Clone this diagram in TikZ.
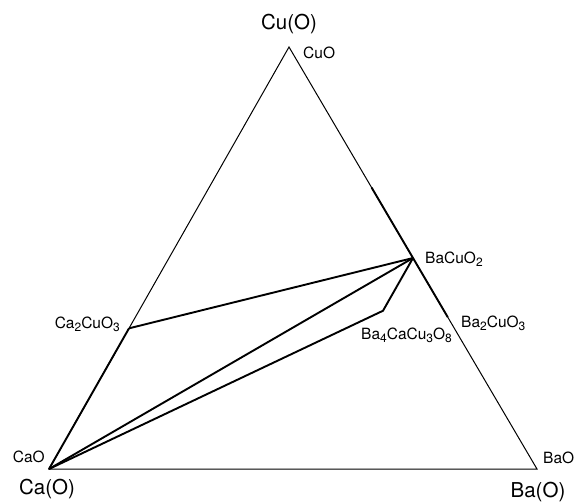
\documentclass[tikz,border=0pt]{standalone}
\usepackage{fontspec}
\setmainfont{TeX Gyre Heros}
\usetikzlibrary{calc}
\newcommand{\chemsub}[1]{\raisebox{-0.35ex}{\fontsize{12}{13}\selectfont #1}}
\tikzset{
    edgeline/.style={
        draw=black,
        line width=1.0pt
    },
    tieline/.style={
        draw=black,
        line width=1.9pt,
        line join=round
    },
    cornerlabel/.style={
        font=\fontsize{20.5}{23}\selectfont,
        inner sep=0pt
    },
    phaselabel/.style={
        font=\fontsize{15.5}{17}\selectfont,
        inner sep=0pt
    }
}

\begin{document}
\begin{tikzpicture}[x=1pt,y=-1pt]
    \useasboundingbox (0,0) rectangle (579,503);

    % Corners of the composition triangle
    \coordinate (Cu) at (289,47);
    \coordinate (Ca) at (49,469);
    \coordinate (Ba) at (537,469);

    % Phases on the edges and inside
    \coordinate (BaCuO2) at ($(Cu)!0.5!(Ba)$);
    \coordinate (Ca2CuO3) at ($(Cu)!2/3!(Ca)$);
    \coordinate (Ba2CuO3) at ($(Cu)!0.64!(Ba)$);
    \coordinate (BaCu2) at ($(Cu)!1/3!(Ba)$);
    \coordinate (Ba4CaCu3O8) at (barycentric cs:Ba=4,Ca=1,Cu=3);

    % Triangle outline
    \draw[edgeline] (Ca) -- (Cu) -- (Ba) -- cycle;

    % Solid solution ranges along the edges
    \draw[tieline] (BaCu2) -- (Ba2CuO3);
    \draw[tieline] (Ca2CuO3) -- (Ca);

    % Tie lines
    \draw[tieline] (Ca2CuO3) -- (BaCuO2);
    \draw[tieline] (Ca) -- (BaCuO2);
    \draw[tieline] (Ca) -- (Ba4CaCu3O8) -- (BaCuO2);

    % Corner labels
    \node[cornerlabel] (lbl-Cu) at (289,24) {Cu(O)};
    \node[cornerlabel] (lbl-Ca) at (47,489) {Ca(O)};
    \node[cornerlabel] (lbl-Ba) at (538,492) {Ba(O)};

    % Phase labels
    \node[phaselabel, anchor=west] (lbl-CuO) at (303,53) {CuO};
    \node[phaselabel, anchor=east] (lbl-CaO) at (45,457) {CaO};
    \node[phaselabel, anchor=west] (lbl-BaO) at (543,458) {BaO};
    \node[phaselabel, anchor=west] (lbl-BaCuO2) at (425,259) {BaCuO\chemsub{2}};
    \node[phaselabel, anchor=west] (lbl-Ba2CuO3) at (461,323) {Ba\chemsub{2}CuO\chemsub{3}};
    \node[phaselabel, anchor=east] (lbl-Ca2CuO3) at (120,324) {Ca\chemsub{2}CuO\chemsub{3}};
    \node[phaselabel, anchor=west] (lbl-Ba4CaCu3O8) at (361,335) {Ba\chemsub{4}CaCu\chemsub{3}O\chemsub{8}};
\end{tikzpicture}
\end{document}
